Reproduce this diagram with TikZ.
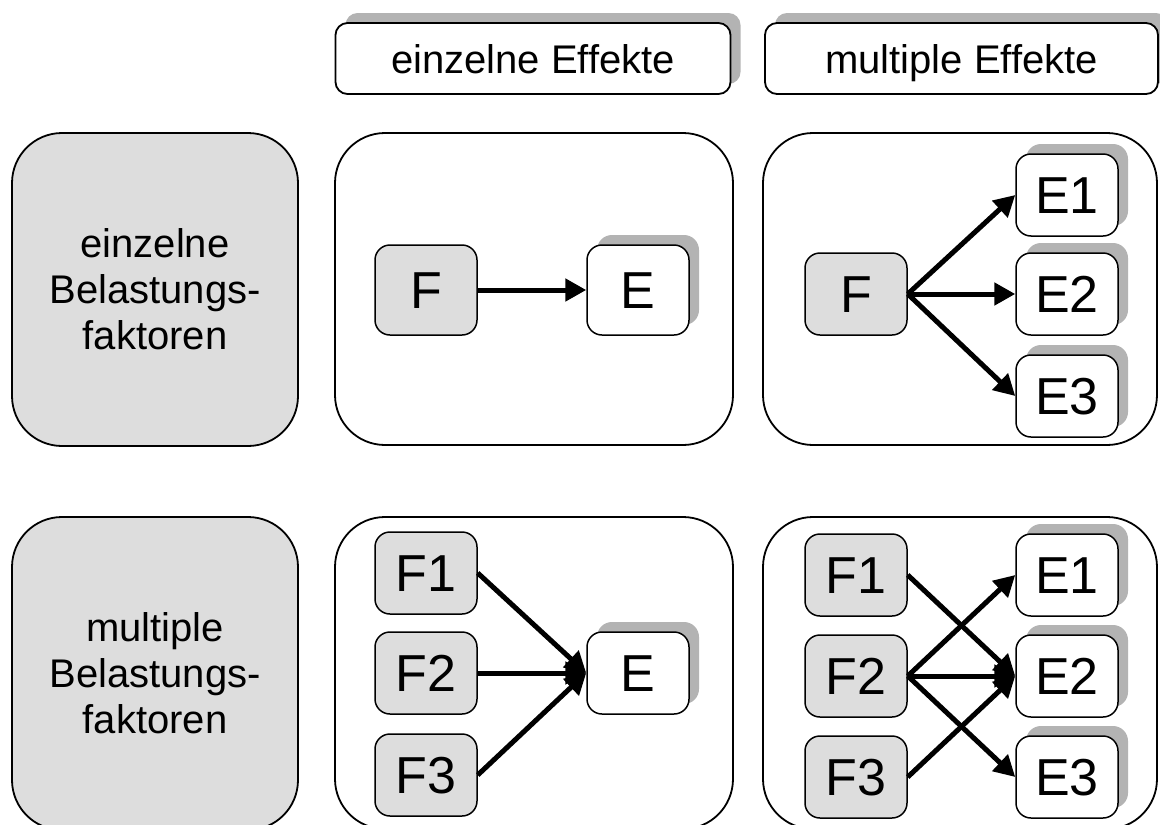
\documentclass[tikz,border=0pt]{standalone}
\usepackage{fontspec}
\setmainfont{Liberation Sans}
\usetikzlibrary{arrows.meta,shadows}
\definecolor{shadowgray}{HTML}{B3B3B3}
\definecolor{fgray}{HTML}{DDDDDD}
\newcommand\hdfont{\fontsize{40}{46}\selectfont}
\newcommand\ndfont{\fontsize{52}{58}\selectfont}
\tikzset{
  panel/.style={draw, line width=1.8pt, rounded corners=50pt, fill=white, inner sep=0pt},
  rowlabel/.style={panel, fill=fgray, align=center, font=\hdfont, minimum width=286pt, minimum height=313pt},
  myshadow/.style={general shadow={fill=shadowgray, shadow xshift=10pt, shadow yshift=10pt}},
  header/.style={draw, line width=1.8pt, rounded corners=12pt, fill=white, myshadow, font=\hdfont, inner sep=0pt, minimum height=71pt, text height=29pt, text depth=0pt},
  fnode/.style={draw, line width=1.5pt, rounded corners=15pt, fill=fgray, minimum width=102pt, minimum height=82pt, inner sep=0pt, font=\ndfont, text height=37pt, text depth=0pt},
  enode/.style={fnode, fill=white, myshadow},
  arr/.style={line width=5pt, -{Triangle[length=21pt,width=22pt]}}
}
\begin{document}
\begin{tikzpicture}[x=1pt,y=-1pt]
\useasboundingbox (0,0) rectangle (1160,825);
% headers
\node[header, minimum width=395pt] (h1) at (533,58.5) {einzelne Effekte};
\node[header, minimum width=393pt] (h2) at (961.5,58.5) {multiple Effekte};
% row labels
\node[rowlabel] (r1) at (155,289.5) {einzelne\\Belastungs-\\faktoren};
\node[rowlabel] (r2) at (155,673.5) {multiple\\Belastungs-\\faktoren};
% panels
\node[panel, minimum width=398pt, minimum height=312pt] (p11) at (534,289) {};
\node[panel, minimum width=394pt, minimum height=312pt] (p12) at (960,289) {};
\node[panel, minimum width=398pt, minimum height=312pt] (p21) at (534,673) {};
\node[panel, minimum width=394pt, minimum height=312pt] (p22) at (960,673) {};
% cell 11
\node[fnode, minimum height=90pt] (a11F) at (426,290) {F};
\node[enode, minimum height=90pt] (a11E) at (638,290) {E};
\draw[arr] (a11F.east) -- (a11E.west);
% cell 12
\node[fnode] (a12F) at (856,294) {F};
\node[enode] (a12E1) at (1067,195) {E1};
\node[enode] (a12E2) at (1067,294) {E2};
\node[enode] (a12E3) at (1067,396) {E3};
\draw[arr] (a12F.east) -- (a12E1.west);
\draw[arr] (a12F.east) -- (a12E2.west);
\draw[arr] (a12F.east) -- (a12E3.west);
% cell 21
\node[fnode] (a21F1) at (426,573) {F1};
\node[fnode] (a21F2) at (426,673) {F2};
\node[fnode] (a21F3) at (426,775) {F3};
\node[enode] (a21E) at (638,673) {E};
\draw[arr] (a21F1.east) -- (a21E.west);
\draw[arr] (a21F2.east) -- (a21E.west);
\draw[arr] (a21F3.east) -- (a21E.west);
% cell 22
\node[fnode] (a22F1) at (856,575) {F1};
\node[fnode] (a22F2) at (856,676) {F2};
\node[fnode] (a22F3) at (856,777) {F3};
\node[enode] (a22E1) at (1067,575) {E1};
\node[enode] (a22E2) at (1067,676) {E2};
\node[enode] (a22E3) at (1067,777) {E3};
\draw[arr] (a22F1.east) -- (a22E2.west);
\draw[arr] (a22F2.east) -- (a22E1.west);
\draw[arr] (a22F2.east) -- (a22E2.west);
\draw[arr] (a22F2.east) -- (a22E3.west);
\draw[arr] (a22F3.east) -- (a22E2.west);
\end{tikzpicture}
\end{document}
